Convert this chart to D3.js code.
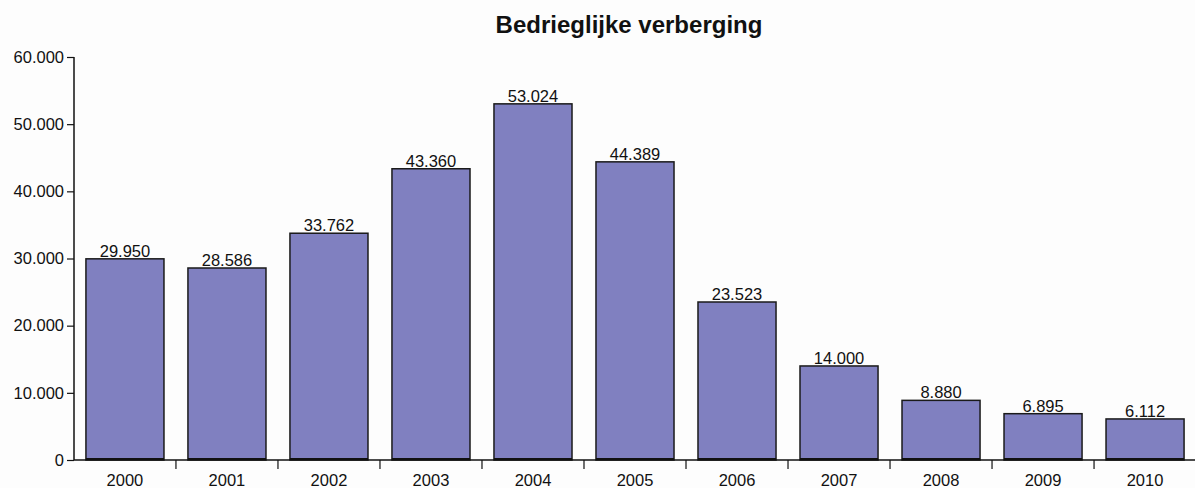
<!DOCTYPE html>
<html>
<head>
<meta charset="utf-8">
<script src="https://cdn.jsdelivr.net/npm/d3@7"></script>
<style>
  html, body { margin: 0; padding: 0; background: #fdfdfd; }
  svg { display: block; }
  text { font-family: "Liberation Sans", Arial, sans-serif; fill: #111; }
</style>
</head>
<body>
<svg id="chart" width="1195" height="488"></svg>
<script>
// Yearly counts of "bedrieglijke verberging"
const years = ["2000","2001","2002","2003","2004","2005","2006","2007","2008","2009","2010"];
const counts = [29950, 28586, 33762, 43360, 53024, 44389, 23523, 14000, 8880, 6895, 6112];
const yTicks = [0, 10000, 20000, 30000, 40000, 50000, 60000];
const title = "Bedrieglijke verberging";

const svg = d3.select("#chart");
const margin = { top: 57, right: 0, bottom: 28, left: 74 };
const W = 1195, H = 488;
const plotW = W - margin.left - margin.right + 1;
const plotH = H - margin.top - margin.bottom;
const fs = "16.5px";

// Dutch thousands separator
const fmt = n => d3.format(",")(n).replace(/,/g, ".");

const x = d3.scaleBand().domain(years).range([0, plotW]).paddingInner(0.235).paddingOuter(0.117);
const y = d3.scaleLinear().domain([0, 60000]).range([plotH, 0]);

const g = svg.append("g").attr("transform", `translate(${margin.left},${margin.top})`);

// bars
g.selectAll("rect.bar").data(counts).join("rect")
  .attr("class", "bar")
  .attr("x", (d, i) => x(years[i]))
  .attr("y", d => y(d))
  .attr("width", x.bandwidth())
  .attr("height", d => plotH - y(d))
  .attr("fill", "#8080c0")
  .attr("stroke", "#1a1a1a")
  .attr("stroke-width", 1.5);

// value labels
g.selectAll("text.val").data(counts).join("text")
  .attr("class", "val")
  .attr("x", (d, i) => x(years[i]) + x.bandwidth() / 2)
  .attr("y", d => y(d) - 2)
  .attr("text-anchor", "middle")
  .style("font-size", fs)
  .text(d => fmt(d));

// y axis
const yAxis = g.append("g")
  .call(d3.axisLeft(y).tickValues(yTicks).tickFormat(fmt).tickSize(7).tickPadding(3));
// x axis: ticks on the band boundaries
const bounds = years.map(yr => x(yr) - x.step() * x.paddingInner() / 2).slice(1).concat([plotW]);
const xAxis = g.append("g").attr("transform", `translate(0,${plotH})`);
xAxis.append("line").attr("x1", 0).attr("x2", plotW).attr("stroke", "#111").attr("stroke-width", 1.5);
// darker base under each bar
xAxis.selectAll("line.base").data(years).join("line")
  .attr("class", "base")
  .attr("x1", d => x(d)).attr("x2", d => x(d) + x.bandwidth())
  .attr("y1", -1).attr("y2", -1)
  .attr("stroke", "#111").attr("stroke-width", 2);
xAxis.selectAll("line.tk").data(bounds).join("line")
  .attr("class", "tk")
  .attr("x1", d => d).attr("x2", d => d)
  .attr("y1", 0).attr("y2", 9)
  .attr("stroke", "#111").attr("stroke-width", 1.2);
xAxis.selectAll("text.yr").data(years).join("text")
  .attr("class", "yr")
  .attr("x", d => x(d) + x.bandwidth() / 2)
  .attr("y", 25.5)
  .attr("text-anchor", "middle")
  .style("font-size", fs)
  .text(d => d);

yAxis.select(".domain").attr("stroke", "#111").attr("stroke-width", 1.5).attr("d", `M0,0V${plotH}`);
yAxis.selectAll(".tick line").attr("stroke", "#111").attr("stroke-width", 1.2);
yAxis.selectAll(".tick text").style("font-size", fs).style("font-family", "Liberation Sans, Arial, sans-serif").attr("fill", "#111");

// title
svg.append("text")
  .attr("x", 629)
  .attr("y", 32.5)
  .attr("text-anchor", "middle")
  .style("font-size", "24px")
  .style("font-weight", "bold")
  .text(title);
</script>
</body>
</html>
